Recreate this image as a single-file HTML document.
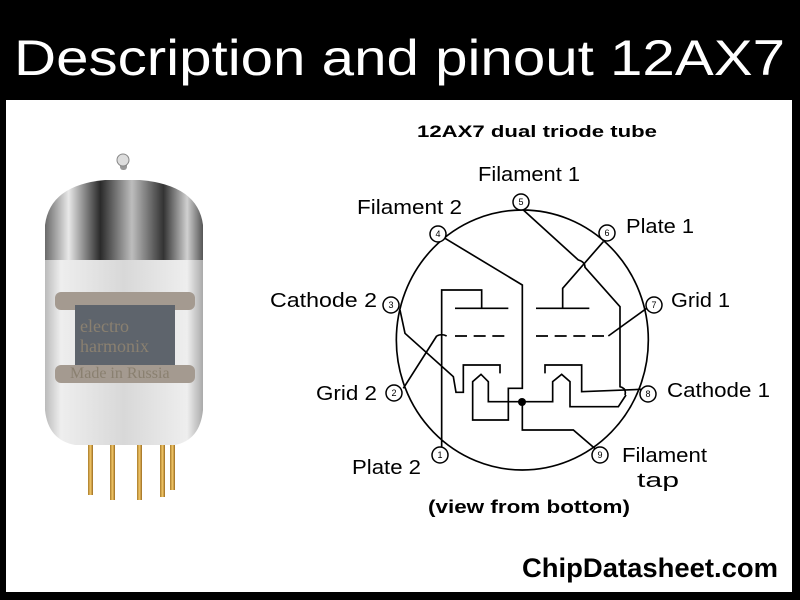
<!DOCTYPE html>
<html><head><meta charset="utf-8"><style>html,body{margin:0;padding:0;background:#000}svg{display:block}</style></head>
<body>
<svg width="800" height="600" viewBox="0 0 800 600" xmlns="http://www.w3.org/2000/svg" font-family="Liberation Sans, Arial, sans-serif">
<defs>
<linearGradient id="chrome" x1="0" x2="1" y1="0" y2="0">
<stop offset="0" stop-color="#6a6a6a"/><stop offset="0.15" stop-color="#e8e8e8"/><stop offset="0.35" stop-color="#2a2a2a"/><stop offset="0.55" stop-color="#bdbdbd"/><stop offset="0.75" stop-color="#333"/><stop offset="0.9" stop-color="#d0d0d0"/><stop offset="1" stop-color="#555"/></linearGradient>
<linearGradient id="glass" x1="0" x2="1" y1="0" y2="0">
<stop offset="0" stop-color="#bbb"/><stop offset="0.1" stop-color="#eee"/><stop offset="0.5" stop-color="#d8d8d8"/><stop offset="0.9" stop-color="#eee"/><stop offset="1" stop-color="#aaa"/></linearGradient>
<linearGradient id="gold" x1="0" x2="1"><stop offset="0" stop-color="#a87a2a"/><stop offset="0.5" stop-color="#f3c868"/><stop offset="1" stop-color="#9a6a20"/></linearGradient>
</defs>
<rect width="800" height="600" fill="#000"/>
<rect x="6" y="100" width="786" height="492" fill="#fff"/>
<text x="14" y="75" font-size="50" fill="#fff" textLength="771" lengthAdjust="spacingAndGlyphs">Description and pinout 12AX7</text>

<g>
<rect x="120" y="156" width="7" height="14" rx="3" fill="#999"/>
<circle cx="123" cy="160" r="6" fill="#ddd" stroke="#888"/>
<path d="M45 260 L45 225 Q50 185 105 180 L140 180 Q198 185 203 225 L203 260 Z" fill="url(#chrome)"/>
<path d="M45 260 L203 260 L203 410 Q200 440 175 445 L75 445 Q48 440 45 410 Z" fill="url(#glass)"/>
<rect x="55" y="292" width="140" height="18" rx="6" fill="#a49a90"/>
<rect x="75" y="305" width="100" height="70" fill="#5e646c"/>
<rect x="55" y="365" width="140" height="18" rx="6" fill="#a49a90"/>
<text x="80" y="332" font-family="Liberation Serif, serif" font-size="18" fill="#8a8070">electro</text>
<text x="80" y="352" font-family="Liberation Serif, serif" font-size="18" fill="#8a8070">harmonix</text>
<text x="70" y="378" font-family="Liberation Serif, serif" font-size="16" fill="#8a8070">Made in Russia</text>
<g fill="url(#gold)">
<rect x="88" y="445" width="5" height="50"/><rect x="110" y="445" width="5" height="55"/><rect x="137" y="445" width="5" height="55"/><rect x="160" y="445" width="5" height="52"/><rect x="170" y="445" width="5" height="45"/>
</g>
</g>

<g fill="#000">
<text x="417" y="137" font-size="17" font-weight="bold" textLength="240" lengthAdjust="spacingAndGlyphs">12AX7 dual triode tube</text>
<text x="478" y="181" font-size="20" textLength="102" lengthAdjust="spacingAndGlyphs">Filament 1</text>
<text x="357" y="214" font-size="20" textLength="105" lengthAdjust="spacingAndGlyphs">Filament 2</text>
<text x="626" y="233" font-size="20" textLength="68" lengthAdjust="spacingAndGlyphs">Plate 1</text>
<text x="270" y="307" font-size="20" textLength="107" lengthAdjust="spacingAndGlyphs">Cathode 2</text>
<text x="671" y="307" font-size="20" textLength="59" lengthAdjust="spacingAndGlyphs">Grid 1</text>
<text x="316" y="400" font-size="20" textLength="61" lengthAdjust="spacingAndGlyphs">Grid 2</text>
<text x="667" y="397" font-size="20" textLength="103" lengthAdjust="spacingAndGlyphs">Cathode 1</text>
<text x="352" y="474" font-size="20" textLength="69" lengthAdjust="spacingAndGlyphs">Plate 2</text>
<text x="622" y="462" font-size="20" textLength="85" lengthAdjust="spacingAndGlyphs">Filament</text>
<text x="637" y="487" font-size="20" textLength="42" lengthAdjust="spacingAndGlyphs">tap</text>
<text x="428" y="513" font-size="18" font-weight="bold" textLength="202" lengthAdjust="spacingAndGlyphs">(view from bottom)</text>
<text x="522" y="577" font-size="27" font-weight="bold" textLength="256" lengthAdjust="spacingAndGlyphs">ChipDatasheet.com</text>
</g>

<g transform="translate(370,180) scale(0.33333)" fill="none" stroke="#000" stroke-width="5">
<ellipse cx="457" cy="480" rx="378" ry="390"/>
<path d="M225 175 L457 315 L457 625 L415 625 L415 720 L308 720 L308 605 L333 583 L355 605 L355 665 L457 665"/>
<path d="M457 665 L548 665 L548 605 L575 583 L600 605 L600 680 L745 680 L768 645"/>
<path d="M460 90 L625 240 Q645 245 645 262 L750 380 L750 620 Q770 625 765 645"/>
<path d="M457 665 L457 750 L610 750 L680 810"/>
<path d="M700 185 L578 325 L578 385 M498 385 L658 385"/>
<path d="M715 468 L830 385"/>
<path d="M498 468 L715 468" stroke-dasharray="36 20"/>
<path d="M255 468 L415 468" stroke-dasharray="36 20"/>
<path d="M200 468 Q215 460 230 468 M200 468 L100 625"/>
<path d="M255 385 L415 385 M335 385 L335 330 L215 330 L215 810"/>
<path d="M90 390 L105 460 L250 590 L258 637 L280 637 L280 555 L390 555 L390 580"/>
<path d="M525 580 L525 555 L635 555 L635 635 L815 628"/>
</g>
<circle cx="522" cy="402" r="4" fill="#000"/>
<g fill="#fff" stroke="#000" stroke-width="1.5">
<circle cx="521" cy="202" r="8"/><circle cx="607" cy="233" r="8"/><circle cx="438" cy="234" r="8"/>
<circle cx="391" cy="305" r="8"/><circle cx="654" cy="305" r="8"/><circle cx="394" cy="393" r="8"/>
<circle cx="648" cy="394" r="8"/><circle cx="440" cy="455" r="8"/><circle cx="600" cy="455" r="8"/>
</g>
<g font-size="9" fill="#000" text-anchor="middle">
<text x="521" y="205">5</text><text x="607" y="236">6</text><text x="438" y="237">4</text>
<text x="391" y="308">3</text><text x="654" y="308">7</text><text x="394" y="396">2</text>
<text x="648" y="397">8</text><text x="440" y="458">1</text><text x="600" y="458">9</text>
</g>
</svg>
</body></html>
